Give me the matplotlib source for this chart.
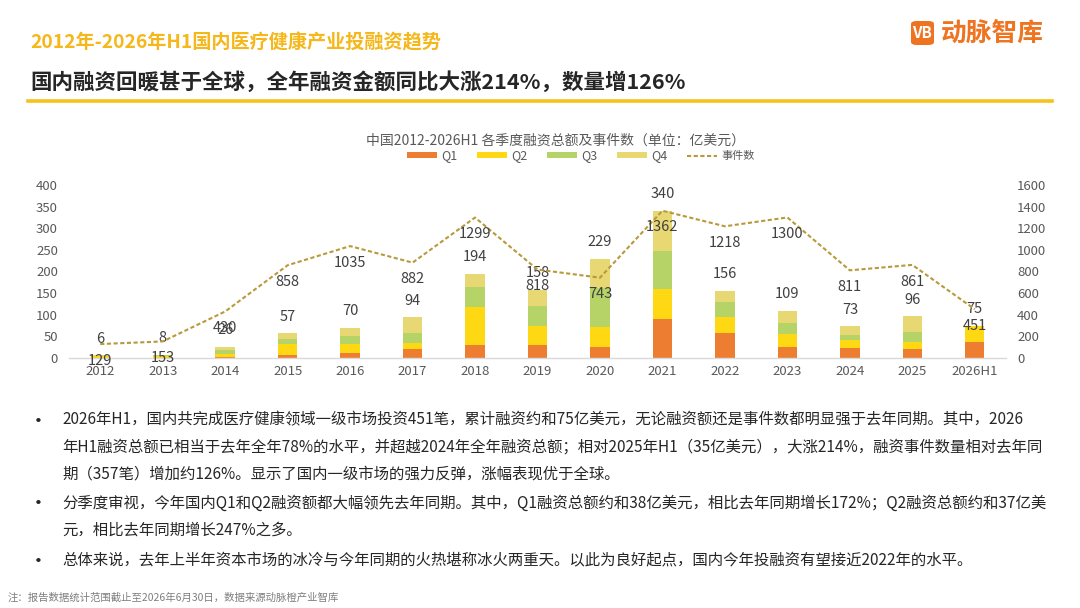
import matplotlib
matplotlib.use("Agg")
import matplotlib.pyplot as plt
from matplotlib.patches import FancyBboxPatch
from matplotlib.lines import Line2D
import numpy as np

plt.rcParams['font.family'] = ['Noto Sans CJK SC', 'DejaVu Sans']

# ---------------- data ----------------
years = ["2012", "2013", "2014", "2015", "2016", "2017", "2018", "2019",
         "2020", "2021", "2022", "2023", "2024", "2025", "2026H1"]
q1 = [1, 1, 3, 8, 11, 20, 31, 30, 25, 90, 57, 25, 22, 21, 38]
q2 = [3, 4, 7, 24, 21, 14, 88, 43, 46, 69, 38, 30, 20, 15, 37]
q3 = [1, 1, 9, 12, 20, 24, 46, 48, 92, 88, 35, 27, 12, 23, 0]
q4 = [1, 2, 7, 13, 18, 36, 29, 37, 66, 93, 26, 27, 19, 37, 0]
totals = [6, 8, 26, 57, 70, 94, 194, 158, 229, 340, 156, 109, 73, 96, 75]
events = [129, 153, 430, 858, 1035, 882, 1299, 818, 743, 1362, 1218, 1300, 811, 861, 451]

left_ticks = [0, 50, 100, 150, 200, 250, 300, 350, 400]
right_ticks = [0, 200, 400, 600, 800, 1000, 1200, 1400, 1600]

header = "2012年-2026年H1国内医疗健康产业投融资趋势"
subtitle = "国内融资回暖甚于全球，全年融资金额同比大涨214%，数量增126%"
chart_title = "中国2012-2026H1 各季度融资总额及事件数（单位：亿美元）"
series_names = ["Q1", "Q2", "Q3", "Q4", "事件数"]
bullets = [
    ["2026年H1，国内共完成医疗健康领域一级市场投资451笔，累计融资约和75亿美元，无论融资额还是事件数都明显强于去年同期。其中，2026",
     "年H1融资总额已相当于去年全年78%的水平，并超越2024年全年融资总额；相对2025年H1（35亿美元），大涨214%，融资事件数量相对去年同",
     "期（357笔）增加约126%。显示了国内一级市场的强力反弹，涨幅表现优于全球。"],
    ["分季度审视，今年国内Q1和Q2融资额都大幅领先去年同期。其中，Q1融资总额约和38亿美元，相比去年同期增长172%；Q2融资总额约和37亿美",
     "元，相比去年同期增长247%之多。"],
    ["总体来说，去年上半年资本市场的冰冷与今年同期的火热堪称冰火两重天。以此为良好起点，国内今年投融资有望接近2022年的水平。"],
]
footnote = "注：报告数据统计范围截止至2026年6月30日，数据来源动脉橙产业智库"

# ---------------- styles ----------------
C_Q1, C_Q2, C_Q3, C_Q4 = "#ED7D31", "#FFD814", "#B5D366", "#E8D874"
C_LINE = "#B89A3C"
C_TEXT = "#404040"
C_GRAY = "#595959"
C_GOLD = "#F5B71A"

W, H = 1080, 608
fig = plt.figure(figsize=(W / 100, H / 100), dpi=100)
fig.patch.set_facecolor("white")

def fx(px):
    return px / W

def fy(py):
    return 1 - py / H

# header
fig.text(fx(30), fy(43), header, fontsize=13.8, fontweight="bold", color=C_GOLD,
         va="center", ha="left")
fig.text(fx(30), fy(82), subtitle, fontsize=15.5, fontweight="bold", color="#262626",
         va="center", ha="left")
fig.add_artist(Line2D([fx(28), fx(1052)], [fy(101), fy(101)], color="#F7C21C", lw=2.6))

# logo
box = FancyBboxPatch((fx(911), fy(45)), fx(23), 24 / H,
                     boxstyle="round,pad=0,rounding_size=0.005",
                     transform=fig.transFigure, facecolor="#EE7421", edgecolor="none")
fig.add_artist(box)
fig.text(fx(922.5), fy(33), "VB", fontsize=11, fontweight="bold", color="white",
         va="center", ha="center")
fig.text(fx(941), fy(33), "动脉智库", fontsize=18.5, fontweight="bold", color="#EE7421",
         va="center", ha="left")

# ---------------- chart ----------------
ax = fig.add_axes([fx(69), fy(358), fx(1006) - fx(69), (358 - 185) / H])
ax2 = ax.twinx()

x = np.arange(len(years))
bw = 0.31
q1a, q2a, q3a, q4a = map(np.array, (q1, q2, q3, q4))
b1 = ax.bar(x, q1a, bw, color=C_Q1, label="Q1", zorder=2)
b2 = ax.bar(x, q2a, bw, bottom=q1a, color=C_Q2, label="Q2", zorder=2)
b3 = ax.bar(x, q3a, bw, bottom=q1a + q2a, color=C_Q3, label="Q3", zorder=2)
b4 = ax.bar(x, q4a, bw, bottom=q1a + q2a + q3a, color=C_Q4, label="Q4", zorder=2)

ax.set_xlim(-0.5, len(years) - 0.5)
ax.set_ylim(0, 400)
ax.set_yticks(left_ticks)
ax.set_xticks(x)
ax.set_xticklabels(years)
ax2.set_ylim(0, 1600)
ax2.set_yticks(right_ticks)

for a in (ax, ax2):
    for s in ("top", "left", "right"):
        a.spines[s].set_visible(False)
    a.spines["bottom"].set_color("#D9D9D9")
    a.spines["bottom"].set_linewidth(1.0)
    a.tick_params(axis="both", length=0, labelsize=9.5, colors=C_GRAY, pad=8)
ax.tick_params(axis="x", pad=5)
ax2.spines["bottom"].set_visible(False)

ln, = ax2.plot(x, events, color=C_LINE, lw=1.5, linestyle=(0, (2, 1.2)),
               label="事件数", zorder=3)

stack_tops = q1a + q2a + q3a + q4a
for xi, top, tot in zip(x, stack_tops, totals):
    ax.annotate(str(tot), (xi, top), xytext=(0, 12), textcoords="offset points",
                ha="center", va="center", fontsize=10.5, color=C_TEXT,
                annotation_clip=False, zorder=5)
for xi, ev in zip(x, events):
    ax2.annotate(str(ev), (xi, ev), xytext=(0, -12), textcoords="offset points",
                 ha="center", va="center", fontsize=10.5, color=C_TEXT,
                 annotation_clip=False, zorder=5)

fig.text(fx(555), fy(141), chart_title, fontsize=10, color=C_GRAY,
         ha="center", va="center")
leg = fig.legend([b1, b2, b3, b4, ln], series_names, loc="center",
                 bbox_to_anchor=(fx(581), fy(156)), ncol=5, frameon=False,
                 fontsize=9, handlelength=2.4, handleheight=0.45,
                 handletextpad=0.3, columnspacing=1.6, borderpad=0)
for t in leg.get_texts():
    t.set_color(C_GRAY)
leg.get_texts()[4].set_fontsize(8)

# ---------------- bullet text ----------------
line_y = [[420, 447, 474], [503, 530], [561]]
for para, ys in zip(bullets, line_y):
    fig.text(fx(38), fy(ys[0]), "●", fontsize=3.5, color="#262626", ha="center", va="center")
    for txt, yy in zip(para, ys):
        fig.text(fx(62), fy(yy), txt, fontsize=11.1, color="#262626", ha="left", va="center")

fig.text(fx(8), fy(598), footnote, fontsize=7.5, color="#7F7F7F", ha="left", va="center")

fig.savefig("out.png", dpi=100, facecolor="white")
